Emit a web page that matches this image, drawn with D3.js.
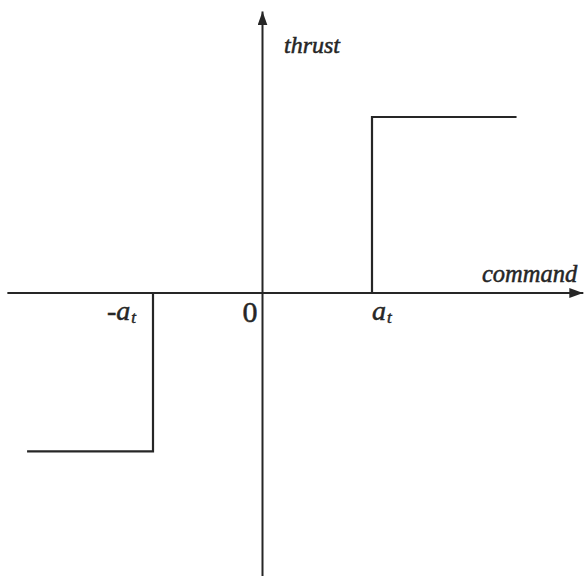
<!DOCTYPE html>
<html><head><meta charset="utf-8">
<script src="https://cdn.jsdelivr.net/npm/d3@7"></script>
<style>html,body{margin:0;padding:0;background:#fff;}svg{display:block;}</style>
</head><body>
<script>
// Data
const stepCommand = [-2.15, -1, -1, 1, 1, 2.32];
const stepThrust  = [-0.9, -0.9, 0, 0, 1, 1];
const tickValues  = [-1, 0, 1];
const tickLabels  = ["-a|t", "0", "a|t"];
const xAxisTitle = "command";
const yAxisTitle = "thrust";

const W = 585, H = 576;
const svg = d3.select("body").append("svg").attr("width", W).attr("height", H);
const ink = "#262626";

const x = d3.scaleLinear().domain([-1, 1]).range([153, 372]);
const y = d3.scaleLinear().domain([-1, 1]).range([469, 117]);

const defs = svg.append("defs");
defs.append("marker").attr("id", "arr").attr("viewBox", "0 0 14 10")
  .attr("refX", 14).attr("refY", 5).attr("markerWidth", 14).attr("markerHeight", 10)
  .attr("markerUnits", "userSpaceOnUse").attr("orient", "auto")
  .append("path").attr("d", "M0,0 L14,5 L0,10 Z").attr("fill", ink);

// axes
svg.append("line").attr("x1", x(-2.33)).attr("x2", x(2.93)).attr("y1", y(0)).attr("y2", y(0))
  .attr("stroke", ink).attr("stroke-width", 2).attr("marker-end", "url(#arr)");
svg.append("line").attr("x1", x(0)).attr("x2", x(0)).attr("y1", y(-1.62)).attr("y2", y(1.6))
  .attr("stroke", ink).attr("stroke-width", 2).attr("marker-end", "url(#arr)");

// step curve
const pts = stepCommand.map((c, i) => [c, stepThrust[i]]);
svg.append("path").attr("d", d3.line().x(d => x(d[0])).y(d => y(d[1]))(pts))
  .attr("fill", "none").attr("stroke", ink).attr("stroke-width", 2.2);

// tick labels
const font = "'Liberation Serif','Times New Roman',serif";
const offs = [{dx: -46, dy: 27}, {dx: -20, dy: 29}, {dx: 0, dy: 27}];
tickValues.forEach((v, i) => {
  const parts = tickLabels[i].split("|");
  const t = svg.append("text").attr("x", x(v) + offs[i].dx).attr("y", y(0) + offs[i].dy)
    .attr("font-family", font).attr("fill", ink).attr("stroke", ink).attr("stroke-width", 0.5);
  if (parts.length > 1) {
    t.attr("font-style", "italic").attr("font-size", 28);
    t.append("tspan").text(parts[0]);
    t.append("tspan").attr("font-size", 17).attr("dy", 3).attr("dx", 1).text(parts[1]);
  } else {
    t.attr("font-size", 30).text(parts[0]);
  }
});

// axis titles
svg.append("text").attr("x", 284).attr("y", 53).attr("font-family", font)
  .attr("font-style", "italic").attr("font-size", 24).attr("fill", ink)
  .attr("stroke", ink).attr("stroke-width", 0.5).text(yAxisTitle);
svg.append("text").attr("x", 482).attr("y", 282).attr("font-family", font)
  .attr("font-style", "italic").attr("font-size", 24.5).attr("fill", ink)
  .attr("stroke", ink).attr("stroke-width", 0.5).text(xAxisTitle);
</script>
</body></html>
